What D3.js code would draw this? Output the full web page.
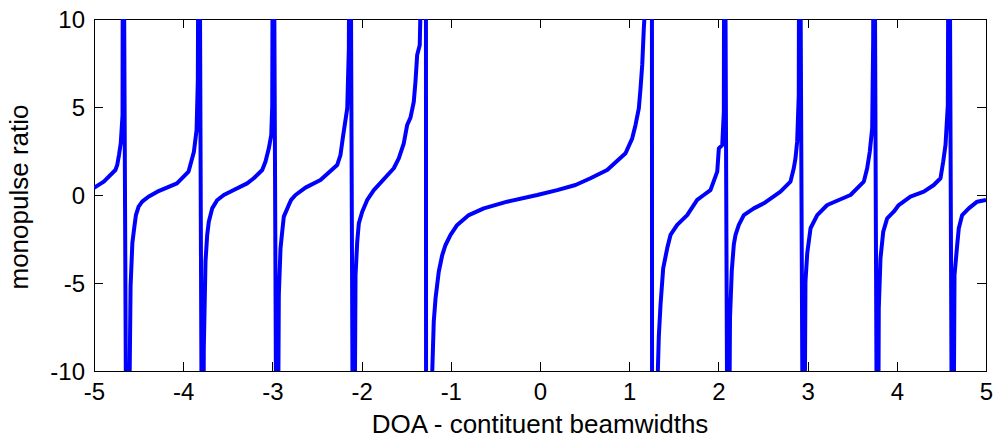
<!DOCTYPE html>
<html>
<head>
<meta charset="utf-8">
<script src="https://cdn.jsdelivr.net/npm/d3@7"></script>
<style>
    body { margin: 0; background: #fff; }
    #chart-area text { font-family: "Liberation Sans", Arial, sans-serif; fill: #000; }
    .axis path { display: none; }
    .axis line { stroke: #000; shape-rendering: crispEdges; }
</style>
</head>
<body>
<div id="chart-area"></div>
<script>

// DOA (constituent beamwidths); +/-25 and +/-200 are samples beyond the axis
const doa = [
    -5.00, -4.89, -4.76, -4.74, -4.72, -4.70, -4.68, -4.675, -4.63, -4.59,
    -4.57, -4.55, -4.53, -4.50, -4.46, -4.39, -4.29, -4.07, -3.94, -3.92, -3.88, -3.85, -3.836, -3.823, -3.784, -3.769,
    -3.75, -3.731, -3.713, -3.675, -3.62, -3.545, -3.433, -3.283, -3.209, -3.114, -3.077, -3.04, -3.013, -3.002, -2.991, -2.948, -2.928,
    -2.909, -2.89, -2.872, -2.816, -2.79, -2.741, -2.629, -2.461, -2.274, -2.237, -2.206, -2.161, -2.143, -2.13, -2.091, -2.068,
    -2.049, -2.031, -1.993, -1.937, -1.863, -1.639, -1.583, -1.527, -1.489, -1.452, -1.415, -1.396, -1.377, -1.348, -1.334, -1.289, -1.267,
    -1.209, -1.191, -1.171, -1.135, -1.096, -1.059, -1.003, -0.928, -0.798, -0.63, -0.368, -0.031, 0.193, 0.398, 0.566, 0.753,
    0.959, 1.034, 1.071, 1.108, 1.127, 1.146, 1.164, 1.194, 1.244, 1.267,
    1.321, 1.332, 1.351, 1.381, 1.426, 1.463, 1.538, 1.65, 1.762, 1.836, 1.911, 1.987, 2.005, 2.043, 2.061, 2.068, 2.108,
    2.13, 2.15, 2.173, 2.192, 2.229, 2.285, 2.397, 2.509, 2.696, 2.808, 2.845, 2.864, 2.883, 2.901, 2.909, 2.954, 2.976,
    2.996, 3.033, 3.108, 3.22, 3.481, 3.63, 3.668, 3.697, 3.724, 3.735, 3.744, 3.784, 3.798,
    3.817, 3.848, 3.892, 3.966, 4.022, 4.153, 4.303, 4.415, 4.49, 4.52, 4.546, 4.572, 4.585, 4.625, 4.647,
    4.677, 4.695, 4.733, 4.807, 4.901, 5.00
];

// monopulse ratio at each DOA above
const ratio = [
    0.41, 0.76, 1.42, 1.70, 2.27, 2.94, 4.55, 25, -25, -5.2,
    -2.73, -1.9, -1.14, -0.66, -0.38, -0.1, 0.19, 0.66, 1.33, 1.70, 2.46, 3.69, 6.5, 25, -25, -8.7,
    -3.79, -2.27, -1.52, -0.76, -0.3, 0, 0.28, 0.66, 0.95, 1.42, 1.9, 2.65, 3.41, 5.02, 25, -25, -5.68,
    -3.03, -2.08, -1.23, -0.57, -0.28, 0, 0.42, 0.85, 1.7, 2.27, 3.41, 4.92, 8.3, 25, -25, -4.55,
    -2.65, -1.61, -0.95, -0.28, 0.28, 1.52, 2.08, 2.94, 3.98, 4.4, 5.3, 6.44, 7.95, 8.52, 12, 200, -200,
    -10.2, -7.2, -5.87, -4.36, -3.41, -2.84, -2.27, -1.70, -1.14, -0.76, -0.38, 0, 0.28, 0.57, 0.95, 1.42,
    2.37, 3.22, 3.98, 4.92, 6.06, 7.39, 9.47, 12, 200, -200,
    -10.0, -8.05, -6.25, -4.17, -3.03, -2.27, -1.70, -1.14, -0.28, 0, 0.28, 1.33, 2.65, 2.84, 4.73, 25, -25,
    -7, -4.3, -2.8, -2.27, -1.70, -1.14, -0.76, -0.47, 0.19, 0.76, 1.52, 2.08, 3.03, 5.68, 25, -25, -4.92,
    -3.31, -1.89, -1.14, -0.57, 0, 0.76, 1.52, 2.46, 3.79, 8.71, 25, -25, -6.44,
    -3.6, -2.08, -1.33, -0.95, -0.57, -0.09, 0.19, 0.57, 0.95, 1.89, 2.84, 5.11, 25, -25, -4.55,
    -2.84, -1.89, -1.14, -0.76, -0.38, -0.28
];

const xTicks = [-5, -4, -3, -2, -1, 0, 1, 2, 3, 4, 5];
const yTicks = [-10, -5, 0, 5, 10];

const xLabel = "DOA - contituent beamwidths";
const yLabel = "monopulse ratio";


class MonopulsePlot {

    constructor(_parentElement, _data) {
        this.parentElement = _parentElement;
        this.data = _data;

        this.initVis();
    }

    initVis() {
        let vis = this;

        vis.margin = { top: 19, right: 11, bottom: 71, left: 94 };
        vis.width = 997 - vis.margin.left - vis.margin.right;
        vis.height = 442 - vis.margin.top - vis.margin.bottom;

        vis.svg = d3.select("#" + vis.parentElement).append("svg")
            .attr("width", 997)
            .attr("height", 442)
            .append("g")
            .attr("transform", "translate(" + vis.margin.left + "," + vis.margin.top + ")");

        vis.x = d3.scaleLinear()
            .domain([-5, 5])
            .range([0, vis.width]);

        vis.y = d3.scaleLinear()
            .domain([-10, 10])
            .range([vis.height, 0]);

        vis.svg.append("defs").append("clipPath")
            .attr("id", "plot-clip")
            .append("rect")
            .attr("width", vis.width)
            .attr("height", vis.height);

        // plain hyphen for negatives, like the original figure
        let plain = d => String(d);

        // ticks point inward on all four sides, labels only bottom and left
        vis.svg.append("g")
            .attr("class", "x-axis axis")
            .attr("transform", "translate(0," + vis.height + ")")
            .call(d3.axisBottom(vis.x).tickValues(xTicks).tickFormat(plain).tickSizeInner(-9).tickSizeOuter(0).tickPadding(12))
            .selectAll("text")
            .attr("font-size", "24px");

        vis.svg.append("g")
            .attr("class", "y-axis axis")
            .call(d3.axisLeft(vis.y).tickValues(yTicks).tickFormat(plain).tickSizeInner(-9).tickSizeOuter(0).tickPadding(9))
            .selectAll("text")
            .attr("font-size", "24px")
            .attr("dy", "0.36em");

        vis.svg.append("g")
            .attr("class", "axis")
            .call(d3.axisTop(vis.x).tickValues(xTicks).tickSizeInner(-9).tickSizeOuter(0).tickFormat(""));

        vis.svg.append("g")
            .attr("class", "axis")
            .attr("transform", "translate(" + vis.width + ",0)")
            .call(d3.axisRight(vis.y).tickValues(yTicks).tickSizeInner(-9).tickSizeOuter(0).tickFormat(""));

        vis.svg.append("rect")
            .attr("x", 0.5)
            .attr("y", 0.5)
            .attr("width", vis.width)
            .attr("height", vis.height)
            .attr("fill", "none")
            .attr("stroke", "#000")
            .attr("shape-rendering", "crispEdges");

        vis.svg.append("text")
            .attr("class", "axis-label")
            .attr("x", vis.width / 2)
            .attr("y", vis.height + 62)
            .attr("text-anchor", "middle")
            .attr("font-size", "26px")
            .text(xLabel);

        vis.svg.append("text")
            .attr("class", "axis-label")
            .attr("transform", "translate(" + (-66) + "," + (vis.height / 2 + 2) + ") rotate(-90)")
            .attr("text-anchor", "middle")
            .attr("font-size", "26px")
            .text(yLabel);

        vis.line = d3.line()
            .x(d => vis.x(d.doa))
            .y(d => vis.y(d.ratio));

        vis.wrangleData();
    }

    wrangleData() {
        let vis = this;

        vis.displayData = vis.data.doa.map((d, i) => ({ doa: d, ratio: vis.data.ratio[i] }));

        vis.updateVis();
    }

    updateVis() {
        let vis = this;

        vis.svg.append("path")
            .datum(vis.displayData)
            .attr("clip-path", "url(#plot-clip)")
            .attr("d", vis.line)
            .attr("fill", "none")
            .attr("stroke", "#0000ff")
            .attr("stroke-width", 4)
            .attr("stroke-linejoin", "round");
    }
}

new MonopulsePlot("chart-area", { doa: doa, ratio: ratio });

</script>
</body>
</html>
